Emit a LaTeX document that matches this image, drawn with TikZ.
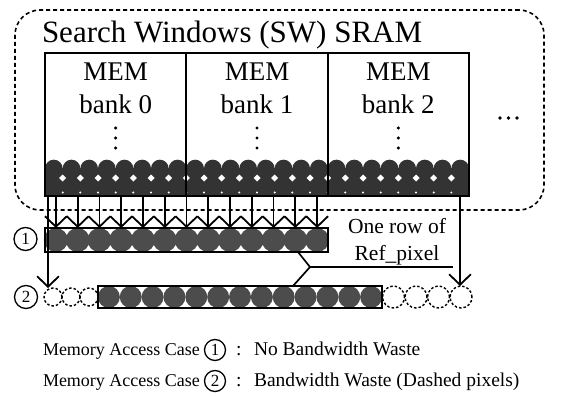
\documentclass[tikz,border=0pt]{standalone}
\usepackage{fontspec}
\setmainfont{Liberation Serif}
\usetikzlibrary{arrows.meta}
\begin{document}
\begin{tikzpicture}[x=1pt,y=-1pt,
  every node/.style={inner sep=0pt, outer sep=0pt},
  barb/.style={-{Straight Barb[length=10.5pt,width=21.8pt,line width=1.8pt]}, line width=1.8pt},
  pix/.style={circle, fill=black!70, minimum size=#1},
  dpix/.style={circle, draw, dash pattern=on 2.5pt off 2pt, line width=1.4pt, minimum size=#1},
  cnum/.style={circle, draw, line width=1.3pt, minimum size=#1, font=\fontsize{17}{17}\selectfont},
  bank/.style={draw, line width=2pt, minimum width=141.33pt, minimum height=143pt, anchor=north west},
  banktxt/.style={anchor=base, font=\fontsize{27}{27}\selectfont},
  legend/.style={anchor=base west, font=\fontsize{18}{18}\selectfont},
  legendr/.style={anchor=base west, font=\fontsize{19.5}{19.5}\selectfont},
  rowbox/.style={draw, line width=2pt, anchor=north west},
]
\useasboundingbox (0,0) rectangle (567,396);

% outer dashed SRAM region
\node[draw, line width=1.6pt, dash pattern=on 4pt off 3pt, rounded corners=25pt,
      minimum width=529pt, minimum height=200pt, anchor=north west] (sw) at (15,10) {};
\node[anchor=base west, font=\fontsize{31}{31}\selectfont] (title) at (42,42) {Search Windows (SW) SRAM};

% pixel stripe at the bottom of the banks
\begin{scope}
  \clip (45,150) rectangle (469,196);
  \fill[black!80] (45,168) rectangle (469,196);
  \foreach \i in {0,...,23} \fill[black!80] ({53.83+17.667*\i},168.5) circle (8.83);
  \foreach \k in {1,...,23} {
    \fill[white] ({45+17.667*\k},174.5) -- ++(3.5,3.5) -- ++(-3.5,3.5) -- ++(-3.5,-3.5) -- cycle;
    \fill[white] ({45+17.667*\k},192.5) circle (1.1);
  }
\end{scope}

% banks
\node[bank] (b0) at (45,53) {};
\node[bank] (b1) at (186.33,53) {};
\node[bank] (b2) at (327.67,53) {};
\foreach \c/\n in {115.67/0, 257/1, 398.33/2} {
  \node[banktxt] (mem\n) at (\c,80) {MEM};
  \node[banktxt] (bk\n) at (\c,113) {bank \n};
  \foreach \yy in {128,138,148} \fill (\c,\yy) circle (1.7);
}
\foreach \xx in {500,508.5,517} \fill (\xx,118) circle (1.8);

% row 1
\foreach \i in {0,...,12} \node[pix=24pt] (p1-\i) at ({55.885+21.77*\i},240) {};
\node[rowbox, minimum width=283pt, minimum height=24pt] (r1) at (45,228) {};

% row 2
\foreach \i in {0,...,12} \node[pix=22pt] (p2-\i) at ({108.9+21.85*\i},297) {};
\node[rowbox, minimum width=284pt, minimum height=22pt] (r2) at (98,286) {};
\foreach \i/\xx in {1/53, 2/71, 3/89} \node[dpix=18pt] (dL-\i) at (\xx,297) {};
\foreach \i/\xx in {1/393.5, 2/416, 3/438.5, 4/461} \node[dpix=22pt] (dR-\i) at (\xx,297) {};

% arrows from SRAM to row 1
\foreach \i in {0,...,12} {
  \coordinate (s-\i) at ({55.885+21.77*\i},196);
  \draw[barb] (s-\i) -- (p1-\i.north);
}
% arrows to row 2
\coordinate (sL) at (48,196);
\draw[barb] (sL) -- (sL |- dL-1.north);
\coordinate (sR) at (460,196);
\draw[barb] (sR) -- (sR |- dR-4.north);

% Ref_pixel label with bracket
\coordinate (apex) at (310,267);
\coordinate (uend) at (453,267);
\draw[line width=1.7pt] ([xshift=-30pt]r1.south east) -- (apex) -- ([xshift=-89pt]r2.north east);
\draw[line width=1.7pt] (apex) -- (uend);
\node[anchor=base, font=\fontsize{21.5}{21.5}\selectfont] (one) at (397,233) {One row of};
\node[anchor=base, font=\fontsize{21.5}{21.5}\selectfont] (ref) at (397,260) {Ref\_pixel};

% case labels
\node[cnum=23pt] (c1) at (25.5,239) {1};
\node[cnum=23pt] (c2) at (26,297) {2};

% legend
\node[legend] (l1) at (43,355) {Memory Access Case};
\node[cnum=21pt] (lc1) at (215,350) {1};
\node[legendr] (col1) at (236,355) {:};
\node[legendr] (t1) at (254,355) {No Bandwidth Waste};
\node[legend] (l2) at (43,386) {Memory Access Case};
\node[cnum=21pt] (lc2) at (215,381) {2};
\node[legendr] (col2) at (236,386) {:};
\node[legendr] (t2) at (254,386) {Bandwidth Waste (Dashed pixels)};
\end{tikzpicture}
\end{document}
